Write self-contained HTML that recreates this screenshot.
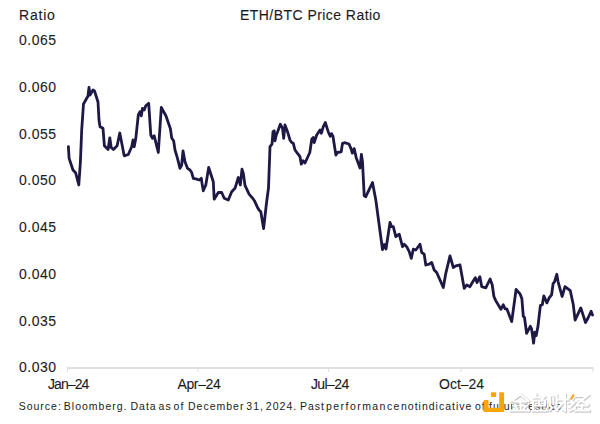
<!DOCTYPE html>
<html><head><meta charset="utf-8">
<style>
html,body{margin:0;padding:0;background:#fff;}
body{width:600px;height:424px;position:relative;overflow:hidden;font-family:"Liberation Sans",sans-serif;color:#1a1a1a;-webkit-text-stroke:0.1px #1a1a1a;}
.t{position:absolute;white-space:nowrap;line-height:15px;}
.yl{position:absolute;left:19px;font-size:14px;line-height:16px;white-space:nowrap;color:#1c1c1c;letter-spacing:0.5px;}
.xl{position:absolute;top:376px;width:80px;text-align:center;font-size:14px;line-height:16px;white-space:nowrap;color:#1c1c1c;}
svg{position:absolute;left:0;top:0;}
.src span{position:absolute;top:400px;font-size:10.5px;line-height:12px;letter-spacing:1px;word-spacing:-2px;white-space:nowrap;-webkit-text-stroke:0;}
</style></head><body>
<div class="t" style="left:19px;top:7px;font-size:14px;line-height:16px;letter-spacing:0.8px;">Ratio</div>
<div class="t" style="left:240px;top:7px;font-size:14px;line-height:16px;letter-spacing:0.45px;">ETH/BTC Price Ratio</div>
<div class="yl" style="top:32.0px">0.065</div>
<div class="yl" style="top:78.8px">0.060</div>
<div class="yl" style="top:125.7px">0.055</div>
<div class="yl" style="top:171.6px">0.050</div>
<div class="yl" style="top:219.4px">0.045</div>
<div class="yl" style="top:266.3px">0.040</div>
<div class="yl" style="top:312.6px">0.035</div>
<div class="yl" style="top:359.0px">0.030</div>
<div class="xl" style="left:27.8px;letter-spacing:-0.9px;text-indent:0.9px">Jan–24</div>
<div class="xl" style="left:158.8px;letter-spacing:-0.35px;text-indent:0.35px">Apr–24</div>
<div class="xl" style="left:289.5px;letter-spacing:-0.6px;text-indent:0.6px">Jul–24</div>
<div class="xl" style="left:421.6px;letter-spacing:0px;text-indent:0px">Oct–24</div>

<svg width="600" height="424" viewBox="0 0 600 424">
<path d="M67.2,368 H593.3" stroke="#e0e0e0" stroke-width="2" fill="none"/>
<path d="M67.5,367 V372 M198,367 V372 M328.6,367 V372 M460.9,367 V372 M593,367 V372" stroke="#dedede" stroke-width="1" fill="none"/>
<path d="M68.4,146.7 L69.1,158.4 L73.0,170.0 L75.6,172.7 L78.8,185.0 L80.4,162.0 L81.7,130.0 L83.5,104.0 L88.0,96.0 L89.0,87.5 L90.0,95.0 L93.0,90.0 L94.5,91.0 L98.0,102.0 L99.0,120.0 L100.0,126.7 L103.0,128.3 L104.4,145.8 L108.1,149.5 L109.8,137.8 L111.2,147.5 L113.4,149.5 L117.1,145.8 L119.8,133.0 L124.2,155.8 L128.3,154.5 L131.7,146.7 L133.0,140.0 L134.2,146.7 L135.8,138.3 L138.3,115.0 L140.0,111.7 L141.3,115.8 L142.5,108.3 L144.2,110.0 L145.8,105.8 L148.7,103.3 L150.8,135.0 L152.5,138.3 L154.2,135.8 L158.3,152.5 L161.3,107.5 L165.9,115.8 L170.4,128.8 L171.7,137.9 L173.7,141.1 L175.0,150.0 L177.5,158.3 L180.0,168.3 L181.7,165.0 L183.0,150.8 L185.0,161.7 L187.5,168.3 L190.0,170.0 L191.7,172.5 L193.3,178.3 L196.7,179.2 L199.2,180.0 L201.3,178.3 L202.0,183.3 L203.3,190.8 L205.8,185.0 L208.7,167.5 L213.3,181.7 L214.2,199.2 L218.3,192.5 L221.7,192.5 L224.2,198.3 L228.3,200.0 L231.7,191.7 L235.0,188.3 L238.3,177.5 L240.3,185.0 L242.0,169.2 L243.3,173.3 L245.0,185.4 L249.1,194.2 L252.7,198.3 L254.4,200.7 L257.4,207.2 L259.0,210.0 L260.8,211.7 L263.6,228.5 L266.5,203.0 L268.5,188.0 L270.0,146.7 L272.0,144.2 L273.0,131.7 L274.2,130.8 L275.0,140.8 L276.3,135.0 L278.0,130.8 L280.3,124.2 L282.5,128.3 L283.7,138.3 L285.0,125.0 L287.5,131.7 L290.0,140.0 L291.7,142.5 L293.3,143.3 L295.0,150.0 L297.5,153.3 L300.0,156.7 L301.3,164.2 L303.0,160.8 L305.0,163.0 L309.8,152.5 L311.8,139.0 L313.3,137.5 L314.2,142.5 L316.7,135.0 L320.0,130.0 L321.3,133.3 L323.3,126.7 L325.3,122.5 L328.2,131.7 L330.2,136.2 L331.5,133.6 L333.0,136.5 L335.9,155.1 L337.3,152.5 L341.2,151.8 L342.5,143.4 L344.5,142.7 L349.0,144.0 L351.0,148.6 L352.3,153.1 L354.2,148.6 L356.2,157.7 L360.0,168.0 L361.4,154.4 L362.5,161.7 L364.2,195.8 L365.8,196.7 L372.5,182.5 L375.8,200.0 L382.5,249.5 L384.3,244.5 L386.0,249.0 L390.0,222.5 L391.7,226.7 L393.3,226.7 L395.8,236.7 L399.2,234.2 L402.5,246.7 L404.2,244.2 L406.7,246.7 L409.2,251.7 L411.3,258.3 L413.3,249.2 L415.8,250.0 L420.0,244.2 L421.7,252.5 L424.2,254.2 L425.8,265.0 L429.2,264.2 L431.7,262.5 L434.2,270.0 L436.7,272.5 L440.0,280.0 L443.3,287.5 L445.8,273.3 L450.0,255.8 L453.3,267.5 L455.8,265.8 L460.0,265.0 L464.2,288.3 L466.7,285.0 L470.0,286.7 L472.3,282.5 L475.3,277.8 L477.0,282.5 L479.9,276.7 L481.7,286.6 L485.8,287.8 L490.1,279.0 L492.2,284.8 L493.9,296.5 L495.7,300.6 L500.9,309.3 L503.3,304.7 L505.0,308.8 L506.8,308.8 L509.3,315.2 L511.7,321.6 L516.1,289.5 L520.2,294.2 L521.9,298.8 L523.3,316.3 L524.5,317.5 L526.6,333.3 L530.3,326.3 L531.5,328.6 L533.6,343.2 L534.8,332.1 L536.2,335.6 L537.9,326.8 L540.4,305.3 L542.3,304.7 L543.8,295.9 L546.9,302.9 L549.3,297.7 L551.6,294.8 L553.1,283.7 L554.5,281.9 L556.8,274.3 L558.0,281.3 L562.1,296.5 L565.0,286.6 L570.3,290.7 L573.2,304.2 L575.1,320.2 L580.8,307.9 L585.5,322.5 L588.3,317.5 L591.1,311.2 L592.5,315.0" stroke="#1d1844" stroke-width="2.8" fill="none" stroke-linejoin="round" stroke-linecap="round"/>
</svg>
<div class="src">
<span style="left:18.7px">Source: Bloomberg.</span>
<span style="left:130.5px">Data as of</span>
<span style="left:188px">December 31, 2024.</span>
<span style="left:300px">Past</span>
<span style="left:326px;letter-spacing:1.45px">performance</span>
<span style="left:401px">notindicative</span>
<span style="left:475px">of</span>
<span style="left:489px">future results.</span>
</div>
<svg width="600" height="424" viewBox="0 0 600 424">
<g fill="#f6a609">
<rect x="490.9" y="392.3" width="5.3" height="4.6" rx="0.8"/>
<rect x="499.2" y="392.3" width="4.9" height="19.7" rx="0.8"/>
<rect x="483.6" y="407.8" width="20.5" height="4.2" rx="0.8"/>
<rect x="483.6" y="399.9" width="5" height="12.1" rx="1.2"/>
</g>
</svg>
<svg width="600" height="424" viewBox="0 0 600 424">
<g stroke-linecap="square" fill="none">
<g stroke="rgba(130,130,130,0.45)" stroke-width="3" transform="translate(0.6,0.7)">
<path id="wm" d="M511,401 L520.5,394.5 L528.5,401 M514,401.5 H526 M513,405.5 H527 M520.5,401.5 V410 M516,407 L517,409 M525,407 L524,409 M511,410.5 H529
M536,394.5 L533,398 M534,397.5 H543.5 L541,400 M533,400.5 H545 V405.5 H533 Z M539,400.5 V405.5 M533,400.5 V410.5 H546.5 V408.5
M550,395.5 H556.5 V406 M550,395.5 V406 M553.3,398 V404 M552,407.5 L550,410 M555,407.5 L557,410 M557.5,399.5 H568 M565,394.5 V410.5 L563,409.5 M565,400 L558,408.5
M573,398.5 L570,402.5 H574 L569.5,407.5 M570,410.5 L575,408 M576,396 H587 L577,404 M579.5,399.5 L588,404.5 M577,405.5 H587 M582,405.5 V410.5 M575.5,410.5 H589"/>
</g>
<g stroke="#ffffff" stroke-width="2.1">
<path d="M511,401 L520.5,394.5 L528.5,401 M514,401.5 H526 M513,405.5 H527 M520.5,401.5 V410 M516,407 L517,409 M525,407 L524,409 M511,410.5 H529
M536,394.5 L533,398 M534,397.5 H543.5 L541,400 M533,400.5 H545 V405.5 H533 Z M539,400.5 V405.5 M533,400.5 V410.5 H546.5 V408.5
M550,395.5 H556.5 V406 M550,395.5 V406 M553.3,398 V404 M552,407.5 L550,410 M555,407.5 L557,410 M557.5,399.5 H568 M565,394.5 V410.5 L563,409.5 M565,400 L558,408.5
M573,398.5 L570,402.5 H574 L569.5,407.5 M570,410.5 L575,408 M576,396 H587 L577,404 M579.5,399.5 L588,404.5 M577,405.5 H587 M582,405.5 V410.5 M575.5,410.5 H589"/>
</g>
<path d="M573.8,394.5 L570.8,399.5" stroke="#f4a81c" stroke-width="2.2" stroke-linecap="butt"/>
</g>
</svg>
</body></html>
